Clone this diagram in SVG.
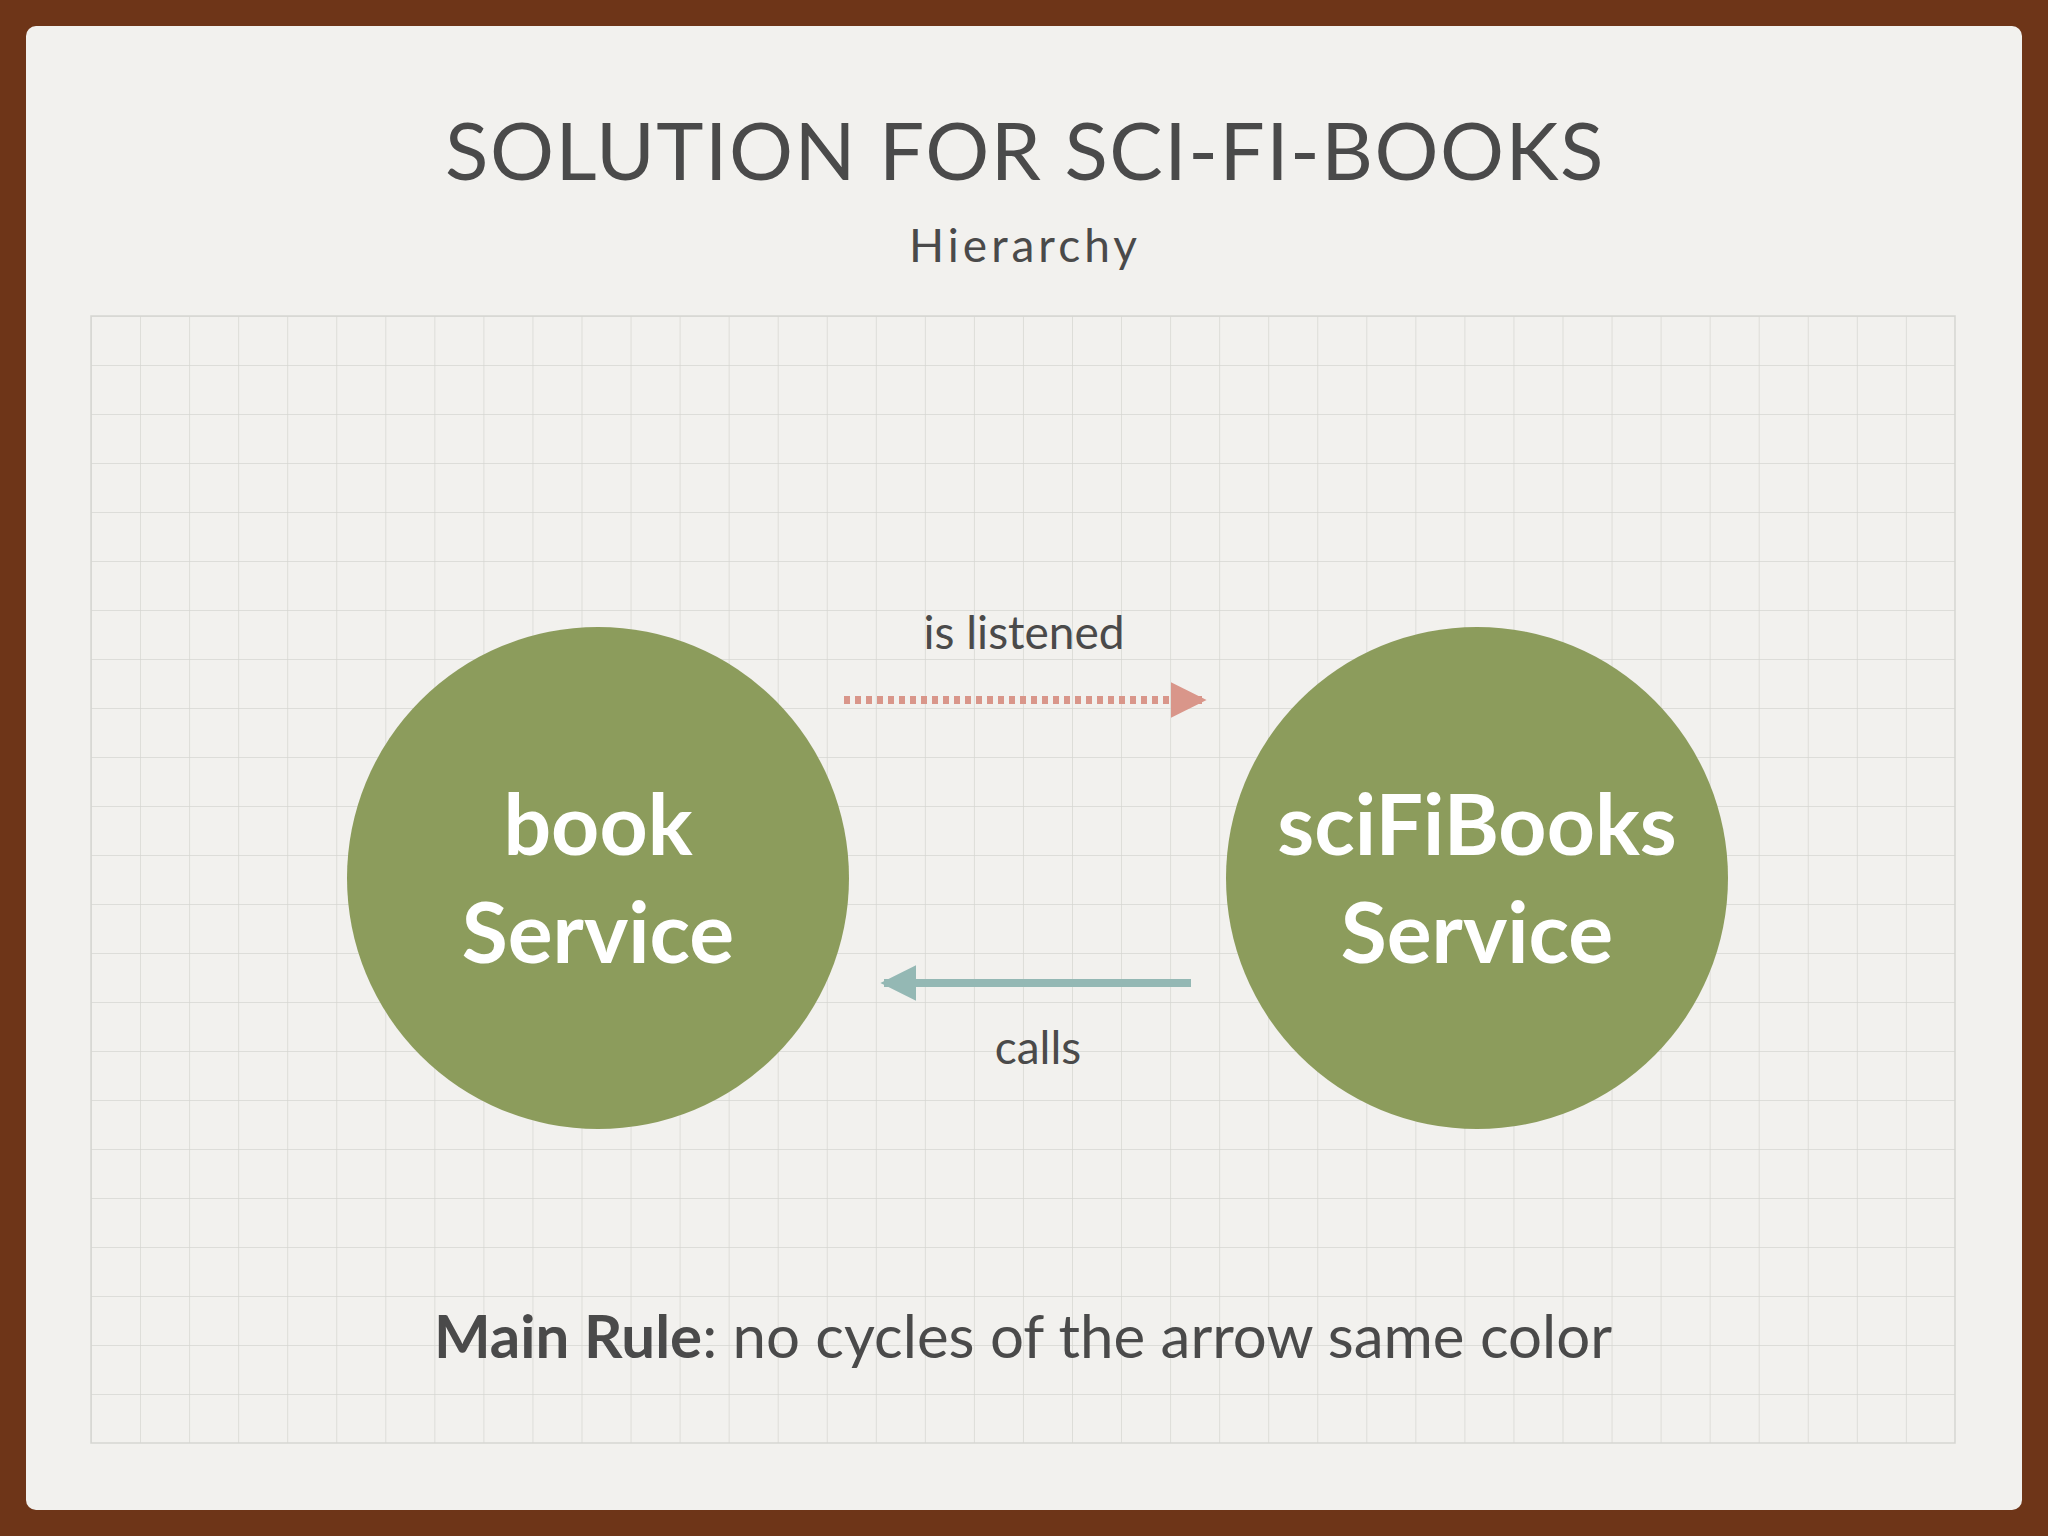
<svg xmlns="http://www.w3.org/2000/svg" width="2048" height="1536" viewBox="0 0 2048 1536">
<defs>
<pattern id="grid" x="91" y="316" width="49.05" height="49" patternUnits="userSpaceOnUse">
<path d="M0 0H49.05M0 0V49" fill="none" stroke="#d6d6d2" stroke-width="1.5"/>
</pattern>
<marker id="hr" viewBox="0 0 10 10" refX="9" refY="5" markerWidth="4.5" markerHeight="4.5" orient="auto"><path d="M0 0L10 5L0 10Z" fill="#d9968a"/></marker>
<marker id="hb" viewBox="0 0 10 10" refX="9" refY="5" markerWidth="4.5" markerHeight="4.5" orient="auto"><path d="M0 0L10 5L0 10Z" fill="#94b8b4"/></marker>
</defs>
<style>
.t{font-family:Lato,"Noto Sans",sans-serif;text-anchor:middle;fill:#4a4a4a}
.n{font-family:Lato,"Noto Sans",sans-serif;text-anchor:middle;fill:#ffffff;font-size:84px;font-weight:bold}
.c{fill:#8c9c5c}
</style>
<rect width="2048" height="1536" fill="#6e3518"/>
<rect x="26" y="26" width="1996" height="1484" rx="10" fill="#f2f1ee"/>
<rect x="91" y="316" width="1864" height="1127" fill="url(#grid)" stroke="#d6d6d2" stroke-width="1.5"/>
<text class="t" x="1025" y="180" font-size="80" letter-spacing="1.5">SOLUTION FOR SCI-FI-BOOKS</text>
<text class="t" x="1025" y="262" font-size="46" letter-spacing="4">Hierarchy</text>
<g id="connectors">
<line x1="844" y1="700" x2="1203" y2="700" stroke="#d9968a" stroke-width="8" stroke-dasharray="6 5" marker-end="url(#hr)"/>
<line x1="1191" y1="983" x2="884" y2="983" stroke="#94b8b4" stroke-width="8" marker-end="url(#hb)"/>
<text class="t" x="1024" y="649" font-size="46">is listened</text>
<text class="t" x="1038" y="1064" font-size="46">calls</text>
</g>
<g id="book"><circle class="c" cx="598" cy="878" r="251"/>
<text class="n" x="598" y="855">book</text><text class="n" x="598" y="963">Service</text></g>
<g id="scifi"><circle class="c" cx="1477" cy="878" r="251"/>
<text class="n" x="1477" y="855">sciFiBooks</text><text class="n" x="1477" y="963">Service</text></g>
<text class="t" x="1023" y="1358" font-size="60"><tspan font-weight="bold">Main Rule</tspan>: no cycles of the arrow same color</text>
</svg>
